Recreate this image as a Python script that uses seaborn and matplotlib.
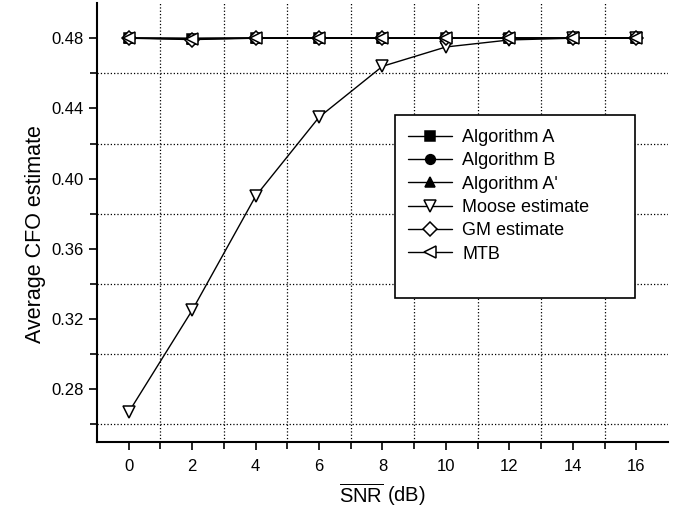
import matplotlib
matplotlib.use('Agg')
from matplotlib import pyplot as plt
from matplotlib.ticker import FormatStrFormatter
from matplotlib.patches import Rectangle
import numpy as np
import pandas as pd
import seaborn as sns

snr = [0, 2, 4, 6, 8, 10, 12, 14, 16]
alg_a = [0.480, 0.4798, 0.480, 0.480, 0.480, 0.480, 0.480, 0.480, 0.480]
alg_b = [0.480, 0.4798, 0.480, 0.480, 0.480, 0.480, 0.480, 0.480, 0.480]
alg_a2 = [0.480, 0.4798, 0.480, 0.480, 0.480, 0.480, 0.480, 0.480, 0.480]
moose = [0.267, 0.325, 0.390, 0.435, 0.464, 0.475, 0.479, 0.480, 0.480]
gm = [0.480, 0.4792, 0.480, 0.480, 0.480, 0.480, 0.480, 0.480, 0.480]
mtb = [0.480, 0.4798, 0.480, 0.4802, 0.480, 0.480, 0.480, 0.480, 0.480]

names = ['Algorithm A', 'Algorithm B', "Algorithm A'", 'Moose estimate', 'GM estimate', 'MTB']
series = [alg_a, alg_b, alg_a2, moose, gm, mtb]
markers = ['s', 'o', '^', 'v', 'D', '<']
fills = ['black', 'black', 'black', 'white', 'white', 'white']
sizes = [7, 7, 7, 8, 7, 8]

sns.set_style('white')
plt.rcParams['font.family'] = ['Liberation Sans', 'DejaVu Sans']
plt.rcParams['mathtext.fontset'] = 'custom'
plt.rcParams['mathtext.rm'] = 'Liberation Sans'
plt.rcParams['text.color'] = 'black'
plt.rcParams['axes.labelcolor'] = 'black'
plt.rcParams['xtick.color'] = 'black'
plt.rcParams['ytick.color'] = 'black'

fig = plt.figure(figsize=(6.84, 5.12), dpi=100)
ax = fig.add_axes([0.1418, 0.1367, 0.8348, 0.8573])

for name, vals, m, fc, ms in zip(names, series, markers, fills, sizes):
    df = pd.DataFrame({'snr': snr, 'cfo': vals})
    sns.lineplot(data=df, x='snr', y='cfo', ax=ax, color='black', linewidth=1.0,
                 marker=m, markersize=ms, markerfacecolor=fc, markeredgecolor='black',
                 markeredgewidth=1.1, label=name)

ax.set_xlim(-1, 17)
ax.set_ylim(0.25, 0.50)
ax.set_xticks(np.arange(0, 17, 2))
ax.set_xticks(np.arange(1, 17, 2), minor=True)
ax.set_yticks(np.arange(0.28, 0.481, 0.04))
ax.set_yticks(np.arange(0.26, 0.47, 0.04), minor=True)
ax.yaxis.set_major_formatter(FormatStrFormatter('%.2f'))

ax.grid(False)
ax.grid(which='minor', color='black', linestyle=':', linewidth=0.9)
ax.tick_params(which='both', direction='out', length=6, width=1.2, labelsize=12,
               bottom=True, left=True, top=False, right=False, color='black',
               labelcolor='black')
ax.tick_params(which='minor', length=5)
ax.tick_params(axis='x', pad=6)

for s in ['top', 'right']:
    ax.spines[s].set_visible(False)
for s in ['left', 'bottom']:
    ax.spines[s].set_color('black')
    ax.spines[s].set_linewidth(1.5)

ax.set_xlabel(r'$\overline{\mathrm{SNR}}$ (dB)', fontsize=14.5, labelpad=5)
ax.set_ylabel('Average CFO estimate', fontsize=15.5, labelpad=4)
ax.yaxis.label.set_y(0.474)

# legend box (drawn larger than the entries, as in the original)
ax.add_patch(Rectangle((0.522, 0.328), 0.42, 0.417, transform=ax.transAxes,
                       facecolor='white', edgecolor='black', linewidth=1.2, zorder=5))
leg = ax.legend(loc='upper left', bbox_to_anchor=(0.545, 0.713), fontsize=13,
                frameon=False, handlelength=2.4, borderpad=0, labelspacing=0.35,
                handletextpad=0.6, borderaxespad=0)
leg.set_zorder(6)

fig.savefig('out.png', dpi=100)
